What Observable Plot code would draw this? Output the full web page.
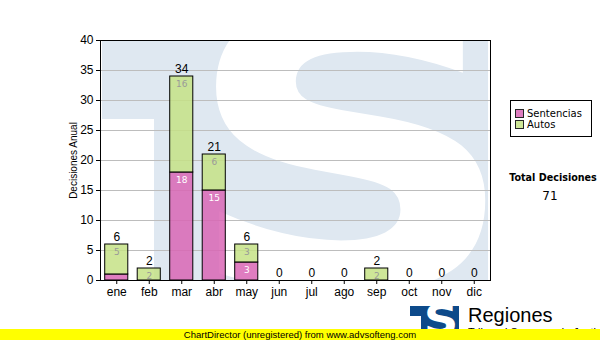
<!DOCTYPE html>
<html><head><meta charset="utf-8">
<script src="https://cdn.jsdelivr.net/npm/d3@7"></script>
<script src="https://cdn.jsdelivr.net/npm/@observablehq/plot@0.6"></script>
<style>
body{margin:0;background:#fff;}
#wrap{position:relative;width:600px;height:340px;overflow:hidden;font-family:"Liberation Sans",Arial,sans-serif;background:#fff;}
#wrap svg{position:absolute;left:0;top:0;}
.legend{position:absolute;left:510px;top:100px;width:80px;height:35px;border:1px solid #000;background:#fff;font-family:"DejaVu Sans",Verdana,sans-serif;font-size:10px;}
.legend .row{position:absolute;left:4px;height:11px;line-height:11px;white-space:nowrap;}
.legend .sw{display:inline-block;width:7px;height:7px;border:1px solid #000;vertical-align:-1px;margin-right:3px;}
.total{position:absolute;left:500px;width:106px;text-align:center;font-family:"DejaVu Sans",Verdana,sans-serif;}
.yellow{position:absolute;left:0;top:329px;width:600px;height:11px;background:#ffff00;font-size:9.5px;line-height:11px;text-align:center;color:#000;}
.logo{position:absolute;left:410px;top:306px;width:49px;height:30px;background:#0d4a8a;overflow:hidden;}
.logo .notch{position:absolute;left:0;top:10px;width:11px;height:30px;background:#fff;}
.logo .s{position:absolute;left:13px;top:-8px;width:36px;text-align:center;color:#fff;font-family:"DejaVu Sans",sans-serif;font-weight:bold;font-size:40px;line-height:44px;transform:scaleX(1.2);}
.reg{position:absolute;left:468px;top:304px;font-size:20px;line-height:22px;color:#000;}
.reg2{position:absolute;left:468px;top:326px;font-size:11px;line-height:12px;color:#000;white-space:nowrap;}
</style></head><body><div id="wrap"></div>
<script>
const meses = ["ene","feb","mar","abr","may","jun","jul","ago","sep","oct","nov","dic"];
const sentencias = [1,0,18,15,3,0,0,0,0,0,0,0];
const autos = [5,2,16,6,3,0,0,0,2,0,0,0];
const series = ["Sentencias","Autos"];
const colores = ["#d966b5","#c6e286"];
const yTicks = [0,5,10,15,20,25,30,35,40];
const totalDecisiones = 71;

const filas = [
  ...meses.map((m,i)=>({mes:m, serie:"Sentencias", valor:sentencias[i], tope:sentencias[i]})),
  ...meses.map((m,i)=>({mes:m, serie:"Autos", valor:autos[i], tope:sentencias[i]+autos[i]}))
];
const totales = meses.map((m,i)=>({mes:m, total:sentencias[i]+autos[i]}));

function watermark(index, scales, values, dim) {
  const x0 = dim.marginLeft, x1 = dim.width - dim.marginRight;
  const y0 = dim.marginTop, y1 = dim.height - dim.marginBottom;
  const g = d3.create("svg:g");
  g.append("clipPath").attr("id","wmclip").append("rect")
    .attr("x",x0).attr("y",y0).attr("width",x1-x0).attr("height",y1-y0);
  const gg = g.append("g").attr("clip-path","url(#wmclip)");
  gg.append("rect").attr("x",x0+2).attr("y",y0+1).attr("width",x1-x0-4).attr("height",y1-y0-1).attr("fill","#dfe8f1");
  gg.append("rect").attr("x",x0+2).attr("y",y0+79).attr("width",52).attr("height",y1-y0-79).attr("fill","#fff");
  gg.append("text").attr("transform",`translate(${x0+251},${y1+8}) scale(1.2,1)`)
    .attr("text-anchor","middle").attr("font-family","DejaVu Sans").attr("font-weight","bold")
    .attr("font-size",390).attr("fill","#fff").text("S");
  return g.node();
}

const plot = Plot.plot({
  width: 600, height: 340,
  marginLeft: 100, marginRight: 110, marginTop: 40, marginBottom: 60,
  style: {fontFamily: "Liberation Sans, Arial, sans-serif", fontSize: "12px", color: "#000", background: "transparent", overflow: "visible"},
  x: {domain: meses, paddingInner: 0.29, paddingOuter: 0.145, round: false, label: null, tickSize: 4, tickPadding: 3},
  y: {domain: [0,40], ticks: yTicks, label: null, tickSize: 4, tickPadding: 3},
  color: {domain: series, range: colores},
  marks: [
    watermark,
    Plot.ruleY(yTicks, {stroke: "#bdbdbd", strokeWidth: 1}),
    Plot.barY(filas.filter(d=>d.valor>0), {x: "mes", y: "valor", fill: "serie", fillOpacity: 0.85, stroke: "#000", strokeWidth: 1}),
    Plot.text(filas.filter(d=>d.valor>=2), {x: "mes", y: "tope", text: d=>String(d.valor), dy: 8,
      fontSize: 9, fontFamily: "DejaVu Sans", fill: d=> d.serie==="Sentencias" ? "#fff" : "#999"}),
    Plot.text(totales, {x: "mes", y: "total", text: d=>String(d.total), dy: -7, fontSize: 12, fill: "#000"}),
    Plot.text(["Decisiones Anual"], {frameAnchor: "left", textAnchor: "middle", text: d=>d, rotate: -90, dx: -27, fontSize: 10, fill: "#000"}),
    Plot.frame({stroke: "#000"})
  ]
});

const wrap = document.getElementById("wrap");
wrap.appendChild(plot);
wrap.insertAdjacentHTML("beforeend", `
<div class="legend">
  <div class="row" style="top:7px"><span class="sw" style="background:${colores[0]};opacity:0.85"></span>${series[0]}</div>
  <div class="row" style="top:18px"><span class="sw" style="background:${colores[1]};opacity:0.85"></span>${series[1]}</div>
</div>
<div class="total" style="top:172px;font-weight:bold;font-size:9.6px;">Total Decisiones</div>
<div class="total" style="top:189px;font-size:12px;left:497px;">${totalDecisiones}</div>
<div class="logo"><div class="notch"></div><div class="s">S</div></div>
<div class="reg">Regiones</div>
<div class="reg2">Tribunal Supremo de Justicia</div>
<div class="yellow">ChartDirector (unregistered) from www.advsofteng.com</div>
`);
</script>
</body></html>
